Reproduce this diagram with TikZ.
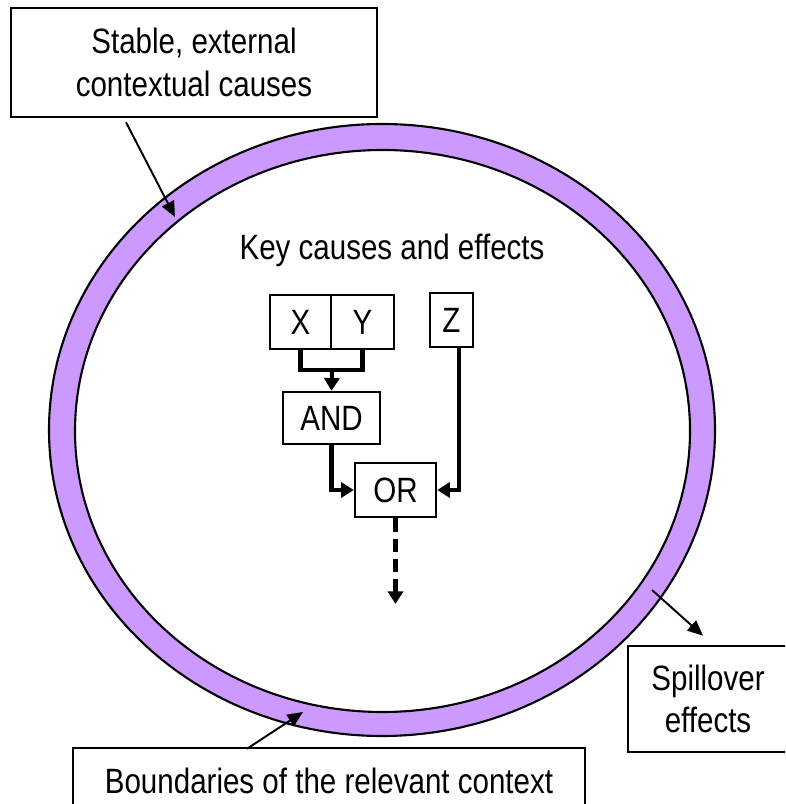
\documentclass[tikz,border=0pt]{standalone}
\usepackage{fontspec}
\setmainfont{Liberation Sans}[FakeStretch=0.84]
\usepackage{tikz}
\usetikzlibrary{arrows.meta}
\usetikzlibrary{positioning}
\usetikzlibrary{calc}
\definecolor{ringpurple}{HTML}{CC99FF}
\tikzset{
% Define standard arrow tip
>={Triangle[width=4.3pt,length=3.6pt]},
box/.style={rectangle, draw=black, line width=0.7pt, inner sep=0, align=center},
link/.style={line width=1.15pt},
callout/.style={line width=0.55pt, -{Triangle[width=3.8pt,length=4.4pt]}}
}

\begin{document}
\begin{tikzpicture}[x=0.01cm, y=-0.01cm, font=\fontsize{10}{12}\selectfont]
  \useasboundingbox (0,0) rectangle (785,804);
  \clip (0,0) rectangle (785,804);

  % the context ring
  \fill[ringpurple, even odd rule] (382,430) ellipse [x radius=333, y radius=306]
    (382.5,431) ellipse [x radius=307.5, y radius=281];
  \draw[line width=0.6pt] (382,430) ellipse [x radius=333, y radius=306];
  \draw[line width=0.6pt] (382.5,431) ellipse [x radius=307.5, y radius=281];

  \node[anchor=base] (title) at (392, 260) {Key causes and effects};

  \node[box, minimum width=0.61cm, minimum height=0.54cm] (X) at (300.5, 322) {X};
  \node[box, minimum width=0.63cm, minimum height=0.54cm] (Y) at (362.5, 322) {Y};
  \node[box, minimum width=0.43cm, minimum height=0.54cm] (Z) at (451.5, 320) {Z};
  \node[box, minimum width=0.97cm, minimum height=0.52cm] (AND) at (331.5, 418) {AND};
  \node[box, minimum width=0.81cm, minimum height=0.54cm] (OR) at (395.5, 490) {OR};

  \coordinate (join) at (332, 370);
  \coordinate (outcome) at (395.5, 604);
  \draw[link] (X.south) |- (join) -| (Y.south);
  \draw[link, ->] (join) -- (AND.north);
  \draw[link, ->] (AND.south) |- (OR.west);
  \draw[link, ->] ([xshift=0.075cm]Z.south) |- (OR.east);
  \draw[link, ->, dash pattern=on 3.8pt off 2pt] (OR.south) -- (outcome);

  % callout boxes
  \node[box, minimum width=3.66cm, minimum height=1.09cm] (stable) at (194, 62.5)
    {Stable, external\\contextual causes};
  \node[box, minimum width=1.60cm, minimum height=1.06cm] (spill) at (708, 699)
    {Spillover\\effects};
  \node[box, minimum width=5.12cm, minimum height=0.65cm] (bound) at (329, 780.5)
    {Boundaries of the relevant context};

  \coordinate (ringtop) at (175, 217);
  \coordinate (ringright) at (652, 590);
  \coordinate (ringbottom) at (303, 712);
  \draw[callout] ($(stable.south)+(-68,4)$) -- (ringtop);
  \draw[callout] (ringright) -- ($(spill.north)+(-5,-9)$);
  \draw[callout] ($(bound.north)+(-82,2)$) -- (ringbottom);
\end{tikzpicture}
\end{document}
